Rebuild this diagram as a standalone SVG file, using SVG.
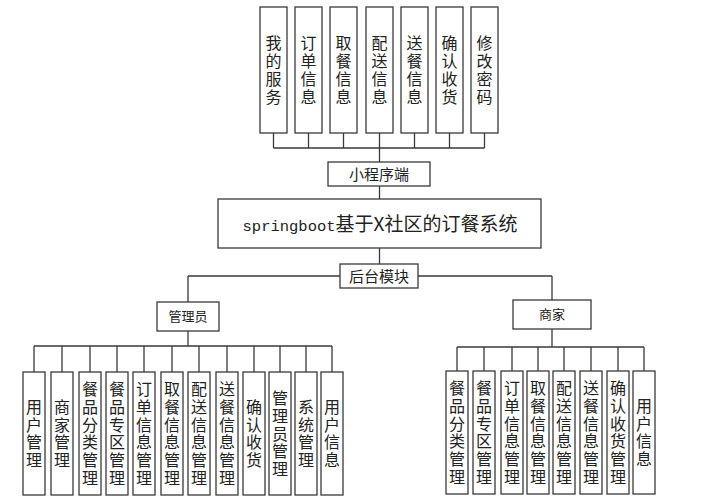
<svg xmlns="http://www.w3.org/2000/svg" width="720" height="500" viewBox="0 0 720 500">
<style>
.b{fill:#fff;stroke:#3a3a3a;stroke-width:1.3}
.c{fill:none;stroke:#3a3a3a;stroke-width:1.3}
text{font-family:"Noto Sans CJK SC","Noto Sans",sans-serif;fill:#222;text-anchor:middle}
.v{font-size:16px}
.m{font-size:15px}
.s{font-size:13px}
.a{font-family:"Liberation Mono",monospace;font-size:15.5px}
</style>
<rect x="0" y="0" width="720" height="500" fill="#fff"/>
<g id="connectors">
<path class="c" d="M273.5 133V148M308.5 133V148M343.5 133V148M379.5 133V148M414.5 133V148M449.5 133V148M484.5 133V148M273.5 148H484.5M379.5 148V162M379.5 186V199M379.5 248V264M188 276H552M188 276V302M552 276V300"/>
<path class="c" d="M188 331V346M34 346H332M34 346V372M62 346V372M90 346V372M117 346V372M144 346V372M172 346V372M199 346V372M227 346V372M254 346V372M280 346V372M306 346V372M332 346V372"/>
<path class="c" d="M552 329V347M457 347H644M457 347V371M484 347V371M512 347V371M538 347V371M564 347V371M591 347V371M618 347V371M644 347V371"/>
</g>
<g id="t1"><rect class="b" x="260" y="7" width="27" height="126"/><text class="v" x="273.5 273.5 273.5 273.5" y="49 67 85 103">我的服务</text></g>
<g id="t2"><rect class="b" x="295" y="7" width="27" height="126"/><text class="v" x="308.5 308.5 308.5 308.5" y="49 67 85 103">订单信息</text></g>
<g id="t3"><rect class="b" x="330" y="7" width="27" height="126"/><text class="v" x="343.5 343.5 343.5 343.5" y="49 67 85 103">取餐信息</text></g>
<g id="t4"><rect class="b" x="366" y="7" width="27" height="126"/><text class="v" x="379.5 379.5 379.5 379.5" y="49 67 85 103">配送信息</text></g>
<g id="t5"><rect class="b" x="401" y="7" width="27" height="126"/><text class="v" x="414.5 414.5 414.5 414.5" y="49 67 85 103">送餐信息</text></g>
<g id="t6"><rect class="b" x="436" y="7" width="27" height="126"/><text class="v" x="449.5 449.5 449.5 449.5" y="49 67 85 103">确认收货</text></g>
<g id="t7"><rect class="b" x="471" y="7" width="27" height="126"/><text class="v" x="484.5 484.5 484.5 484.5" y="49 67 85 103">修改密码</text></g>
<g id="mini"><rect class="b" x="328" y="162" width="102" height="24"/><text class="m" x="379" y="179.5">小程序端</text></g>
<g id="main"><rect class="b" x="218" y="199" width="323" height="49"/><text x="380" y="231" style="font-size:19px"><tspan class="a">springboot</tspan>基于X社区的订餐系统</text></g>
<g id="backend"><rect class="b" x="340" y="264" width="78" height="24"/><text class="m" x="379" y="281.5">后台模块</text></g>
<g id="admin"><rect class="b" x="157" y="302" width="62" height="29"/><text class="s" x="188" y="321">管理员</text></g>
<g id="merchant"><rect class="b" x="513" y="300" width="78" height="29"/><text class="s" x="552" y="319">商家</text></g>
<g id="a1"><rect class="b" x="23" y="372" width="22" height="123"/><text class="v" x="34 34 34 34" y="413 430.7 448.4 466.1">用户管理</text></g>
<g id="a2"><rect class="b" x="51" y="372" width="22" height="123"/><text class="v" x="62 62 62 62" y="413 430.7 448.4 466.1">商家管理</text></g>
<g id="a3"><rect class="b" x="79" y="372" width="22" height="123"/><text class="v" x="90 90 90 90 90 90" y="395.3 413 430.7 448.4 466.1 483.8">餐品分类管理</text></g>
<g id="a4"><rect class="b" x="106" y="372" width="22" height="123"/><text class="v" x="117 117 117 117 117 117" y="395.3 413 430.7 448.4 466.1 483.8">餐品专区管理</text></g>
<g id="a5"><rect class="b" x="133" y="372" width="22" height="123"/><text class="v" x="144 144 144 144 144 144" y="395.3 413 430.7 448.4 466.1 483.8">订单信息管理</text></g>
<g id="a6"><rect class="b" x="161" y="372" width="22" height="123"/><text class="v" x="172 172 172 172 172 172" y="395.3 413 430.7 448.4 466.1 483.8">取餐信息管理</text></g>
<g id="a7"><rect class="b" x="188" y="372" width="22" height="123"/><text class="v" x="199 199 199 199 199 199" y="395.3 413 430.7 448.4 466.1 483.8">配送信息管理</text></g>
<g id="a8"><rect class="b" x="216" y="372" width="22" height="123"/><text class="v" x="227 227 227 227 227 227" y="395.3 413 430.7 448.4 466.1 483.8">送餐信息管理</text></g>
<g id="a9"><rect class="b" x="243" y="372" width="22" height="123"/><text class="v" x="254 254 254 254" y="413 430.7 448.4 466.1">确认收货</text></g>
<g id="a10"><rect class="b" x="269" y="372" width="22" height="123"/><text class="v" x="280 280 280 280 280" y="404.1 421.8 439.5 457.2 474.9">管理员管理</text></g>
<g id="a11"><rect class="b" x="295" y="372" width="22" height="123"/><text class="v" x="306 306 306 306" y="413 430.7 448.4 466.1">系统管理</text></g>
<g id="a12"><rect class="b" x="321" y="372" width="22" height="123"/><text class="v" x="332 332 332 332" y="413 430.7 448.4 466.1">用户信息</text></g>
<g id="m1"><rect class="b" x="446" y="371" width="22" height="123"/><text class="v" x="457 457 457 457 457 457" y="394.3 412 429.7 447.4 465.1 482.8">餐品分类管理</text></g>
<g id="m2"><rect class="b" x="473" y="371" width="22" height="123"/><text class="v" x="484 484 484 484 484 484" y="394.3 412 429.7 447.4 465.1 482.8">餐品专区管理</text></g>
<g id="m3"><rect class="b" x="501" y="371" width="22" height="123"/><text class="v" x="512 512 512 512 512 512" y="394.3 412 429.7 447.4 465.1 482.8">订单信息管理</text></g>
<g id="m4"><rect class="b" x="527" y="371" width="22" height="123"/><text class="v" x="538 538 538 538 538 538" y="394.3 412 429.7 447.4 465.1 482.8">取餐信息管理</text></g>
<g id="m5"><rect class="b" x="553" y="371" width="22" height="123"/><text class="v" x="564 564 564 564 564 564" y="394.3 412 429.7 447.4 465.1 482.8">配送信息管理</text></g>
<g id="m6"><rect class="b" x="580" y="371" width="22" height="123"/><text class="v" x="591 591 591 591 591 591" y="394.3 412 429.7 447.4 465.1 482.8">送餐信息管理</text></g>
<g id="m7"><rect class="b" x="607" y="371" width="22" height="123"/><text class="v" x="618 618 618 618 618 618" y="394.3 412 429.7 447.4 465.1 482.8">确认收货管理</text></g>
<g id="m8"><rect class="b" x="633" y="371" width="22" height="123"/><text class="v" x="644 644 644 644" y="412 429.7 447.4 465.1">用户信息</text></g>
</svg>
